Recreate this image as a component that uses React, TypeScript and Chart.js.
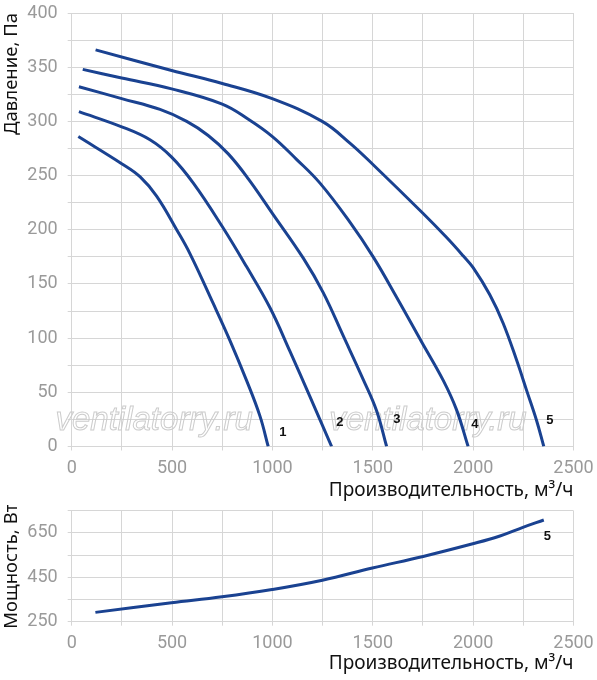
import { useEffect, useRef } from "react";
import { Chart, registerables } from "chart.js";

Chart.register(...registerables);

// Pressure curves (x: m³/h, y: Pa)
const curve1X = [33, 249, 340, 423, 523, 589, 705, 788, 871, 938, 979];
const curve1Y = [286, 261, 249, 231, 200, 178, 132, 98, 61, 28, 0];
const curve2X = [36, 249, 390, 498, 606, 750, 871, 988, 1087, 1187, 1295];
const curve2Y = [309, 295, 283, 267, 243, 203, 166, 128, 88, 46, 0];
const curve3X = [36, 249, 440, 573, 680, 780, 880, 1004, 1153, 1253, 1353, 1452, 1519, 1569];
const curve3Y = [332, 321, 311, 300, 287, 270, 247, 214, 174, 142, 102, 62, 33, 0];
const curve4X = [55, 249, 498, 750, 880, 1000, 1120, 1237, 1386, 1502, 1618, 1745, 1851, 1917, 1975];
const curve4Y = [348, 340, 330, 316, 302, 286, 265, 243, 207, 175, 138, 96, 61, 34, 0];
const curve5X = [119, 498, 750, 999, 1248, 1386, 1502, 1751, 1867, 1950, 2000, 2083, 2149, 2216, 2266, 2316, 2352];
const curve5Y = [366, 347, 335, 321, 300, 280, 260, 215, 193, 176, 165, 140, 114, 80, 52, 24, 0];

// Power curve (x: m³/h, y: W)
const powerX = [118, 497, 749, 998, 1249, 1498, 1751, 1998, 2130, 2248, 2352];
const powerY = [292, 335, 362, 395, 437, 492, 544, 601, 635, 675, 708];

// Curve number labels
const curveNames = ["1", "2", "3", "4", "5"];
const labelX = [1052, 1336, 1620, 2008, 2382];
const labelY = [13, 22, 25, 20, 24];
const powerNames = ["5"];
const powerLabelX = [2370];
const powerLabelY = [635];

const watermarkX = [411, 1775];
const watermarkY = [24, 24];

const LINE = "#1a4291";
const GRID = "#d6d6d6";
const TICK = "#9a9a9a";

const toPoints = (xs: number[], ys: number[]) => xs.map((x, i) => ({ x, y: ys[i] }));

const labelPlugin = (names: string[], xs: number[], ys: number[]) => ({
  id: "curveLabels",
  afterDatasetsDraw(chart: any) {
    const { ctx, scales } = chart;
    ctx.save();
    ctx.font = "bold 13px 'Liberation Sans', Arial";
    ctx.fillStyle = "#111";
    ctx.textAlign = "center";
    ctx.textBaseline = "middle";
    names.forEach((n, i) => {
      ctx.fillText(n, scales.x.getPixelForValue(xs[i]), scales.y.getPixelForValue(ys[i]));
    });
    ctx.restore();
  },
});

const watermarkPlugin = {
  id: "watermark",
  beforeDatasetsDraw(chart: any) {
    const { ctx, scales } = chart;
    ctx.save();
    ctx.font = "italic 33px 'Liberation Sans', Arial";
    ctx.strokeStyle = "#cccccc";
    ctx.lineWidth = 1;
    ctx.textAlign = "center";
    ctx.textBaseline = "middle";
    watermarkX.forEach((x, i) => {
      ctx.strokeText("ventilatorry.ru", scales.x.getPixelForValue(x), scales.y.getPixelForValue(watermarkY[i]));
    });
    ctx.restore();
  },
};

const tickFont = { family: "Roboto", size: 18 };
const xTitleFont = { family: "Noto Sans", size: 19 };
const yTitleFont = { family: "Noto Sans", size: 18.5 };

function xScale(axisHeight: number, tickPad: number, titlePad: number) {
  return {
    type: "linear" as const,
    min: 0,
    max: 2500,
    afterFit: (scale: any) => {
      // fixed axis height, no label overflow padding
      scale.height = axisHeight;
      scale.paddingLeft = 0;
      scale.paddingRight = 0;
    },
    grid: { color: GRID, tickLength: 4 },
    border: { color: GRID },
    ticks: {
      stepSize: 250,
      autoSkip: false,
      maxRotation: 0,
      padding: tickPad,
      color: TICK,
      font: tickFont,
      callback: (v: any) => (v % 500 === 0 ? String(v) : ""),
    },
    title: {
      display: true,
      text: "Производительность, м³/ч",
      align: "end" as const,
      color: "#111",
      font: xTitleFont,
      padding: { top: 0, bottom: titlePad },
    },
  };
}

function yFit(scale: any) {
  scale.width = 71.7;
  scale.paddingTop = 0;
  scale.paddingBottom = 0;
}

const lineStyle = {
  showLine: true,
  borderColor: LINE,
  borderWidth: 3,
  pointRadius: 0,
  tension: 0.4,
};

function PressureChart() {
  const chartRef = useRef<HTMLCanvasElement>(null);
  const chartInstance = useRef<Chart | null>(null);

  useEffect(() => {
    if (!chartRef.current) return;
    if (chartInstance.current) chartInstance.current.destroy();
    const ctx = chartRef.current.getContext("2d");
    if (!ctx) return;

    const series = [
      toPoints(curve1X, curve1Y),
      toPoints(curve2X, curve2Y),
      toPoints(curve3X, curve3Y),
      toPoints(curve4X, curve4Y),
      toPoints(curve5X, curve5Y),
    ];

    chartInstance.current = new Chart(ctx, {
      type: "scatter",
      data: {
        datasets: series.map((data, i) => ({ label: curveNames[i], data, ...lineStyle })),
      },
      options: {
        animation: false,
        responsive: true,
        maintainAspectRatio: false,
        layout: { autoPadding: false, padding: { top: 13, right: 23.5, left: 0, bottom: 0 } },
        plugins: { legend: { display: false }, tooltip: { enabled: false } },
        scales: {
          x: xScale(58.5, 7, 3.5),
          y: {
            min: 0,
            max: 400,
            afterFit: yFit,
            grid: { color: GRID, tickLength: 4 },
            border: { color: GRID },
            ticks: {
              stepSize: 25,
              autoSkip: false,
              padding: 10,
              color: TICK,
              font: tickFont,
              callback: (v: any) => (v % 50 === 0 ? String(v) : ""),
            },
            title: {
              display: true,
              text: "Давление, Па",
              align: "end",
              color: "#111",
              font: yTitleFont,
              padding: { top: 1, bottom: 0 },
            },
          },
        },
      },
      plugins: [watermarkPlugin, labelPlugin(curveNames, labelX, labelY)],
    });

    return () => {
      if (chartInstance.current) {
        chartInstance.current.destroy();
        chartInstance.current = null;
      }
    };
  }, []);

  return (
    <div style={{ position: "relative", width: 597, height: 505 }}>
      <canvas ref={chartRef}></canvas>
    </div>
  );
}

function PowerChart() {
  const chartRef = useRef<HTMLCanvasElement>(null);
  const chartInstance = useRef<Chart | null>(null);

  useEffect(() => {
    if (!chartRef.current) return;
    if (chartInstance.current) chartInstance.current.destroy();
    const ctx = chartRef.current.getContext("2d");
    if (!ctx) return;

    chartInstance.current = new Chart(ctx, {
      type: "scatter",
      data: {
        datasets: [{ label: "5", data: toPoints(powerX, powerY), ...lineStyle }],
      },
      options: {
        animation: false,
        responsive: true,
        maintainAspectRatio: false,
        layout: { autoPadding: false, padding: { top: 5.7, right: 23.5, left: 0, bottom: 0 } },
        plugins: { legend: { display: false }, tooltip: { enabled: false } },
        scales: {
          x: xScale(58.3, 6.5, 5.5),
          y: {
            min: 250,
            max: 750,
            afterFit: yFit,
            grid: { color: GRID, tickLength: 4 },
            border: { color: GRID },
            ticks: {
              stepSize: 100,
              autoSkip: false,
              padding: 10,
              color: TICK,
              font: tickFont,
              callback: (v: any) => (v % 200 === 50 ? String(v) : ""),
            },
            title: {
              display: true,
              text: "Мощность, Вт",
              color: "#111",
              font: yTitleFont,
              padding: { top: 1, bottom: 0 },
            },
          },
        },
      },
      plugins: [labelPlugin(powerNames, powerLabelX, powerLabelY)],
    });

    return () => {
      if (chartInstance.current) {
        chartInstance.current.destroy();
        chartInstance.current = null;
      }
    };
  }, []);

  return (
    <div style={{ position: "relative", width: 597, height: 175 }}>
      <canvas ref={chartRef}></canvas>
    </div>
  );
}

export default function App() {
  return (
    <div style={{ position: "absolute", left: 0, top: 0, width: 597, height: 680, background: "#fff" }}>
      <PressureChart />
      <PowerChart />
    </div>
  );
}
